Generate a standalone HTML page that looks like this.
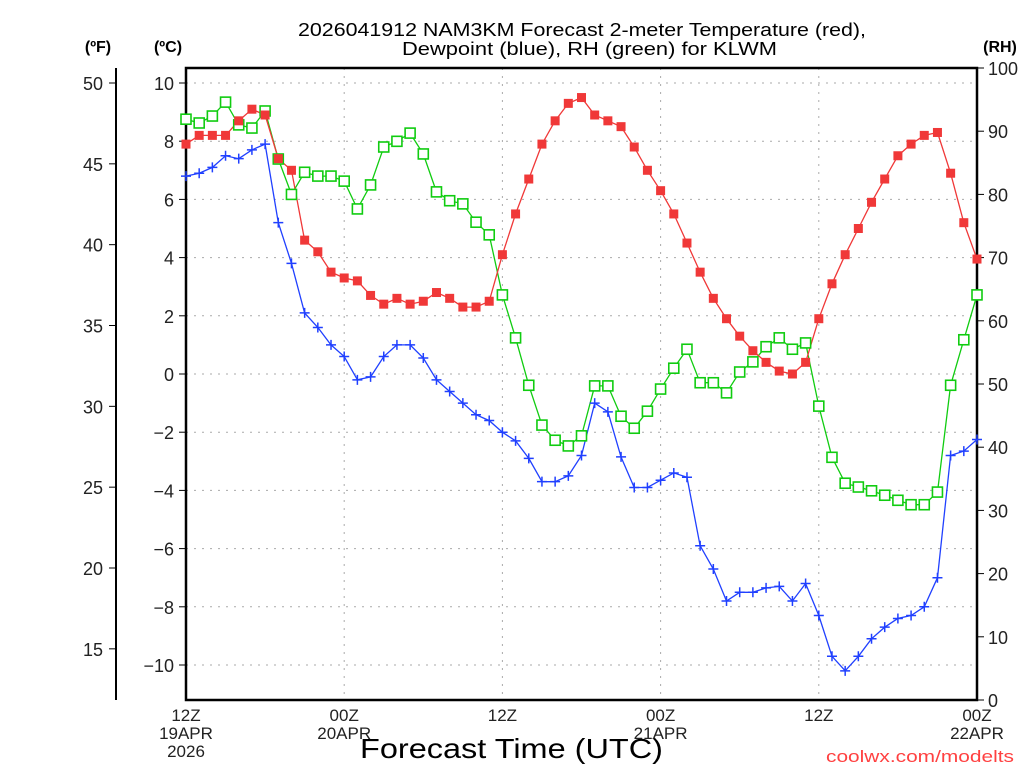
<!DOCTYPE html>
<html><head><meta charset="utf-8"><style>
html,body{margin:0;padding:0;background:#fff;}
svg{display:block;font-family:"Liberation Sans",sans-serif;}
</style></head><body>
<svg id="chart" width="1024" height="768" viewBox="0 0 1024 768">
<text x="298" y="36" textLength="568" lengthAdjust="spacingAndGlyphs" font-size="18">2026041912 NAM3KM Forecast 2-meter Temperature (red),</text>
<text x="402" y="55" textLength="375" lengthAdjust="spacingAndGlyphs" font-size="18">Dewpoint (blue), RH (green) for KLWM</text>
<text x="98" y="52" text-anchor="middle" font-size="16" font-weight="bold">(ºF)</text>
<text x="168" y="52" text-anchor="middle" font-size="16" font-weight="bold">(ºC)</text>
<text x="1000" y="52" text-anchor="middle" font-size="16" font-weight="bold">(RH)</text>
<text x="360" y="758" textLength="303" lengthAdjust="spacingAndGlyphs" font-size="28">Forecast Time (UTC)</text>
<text x="826" y="762" textLength="188" lengthAdjust="spacingAndGlyphs" font-size="17" fill="#ff4040">coolwx.com/modelts</text>
<g id="grid"></g><g id="axes"></g><g id="series"></g>
</svg>
<script>
const temps=[7.9,8.2,8.2,8.2,8.7,9.1,8.9,7.4,7.0,4.6,4.2,3.5,3.3,3.2,2.7,2.4,2.6,2.4,2.5,2.8,2.6,2.3,2.3,2.5,4.1,5.5,6.7,7.9,8.7,9.3,9.5,8.9,8.7,8.5,7.8,7.0,6.3,5.5,4.5,3.5,2.6,1.9,1.3,0.8,0.4,0.1,0.0,0.4,1.9,3.1,4.1,5.0,5.9,6.7,7.5,7.9,8.2,8.3,6.9,5.2,3.95];
const dewpoints=[6.8,6.9,7.1,7.5,7.4,7.7,7.9,5.2,3.8,2.1,1.6,1.0,0.6,-0.2,-0.1,0.6,1.0,1.0,0.55,-0.2,-0.6,-1.0,-1.4,-1.6,-2.0,-2.3,-2.9,-3.7,-3.7,-3.5,-2.8,-1.0,-1.3,-2.85,-3.9,-3.9,-3.65,-3.4,-3.55,-5.9,-6.7,-7.8,-7.5,-7.5,-7.35,-7.3,-7.8,-7.2,-8.3,-9.7,-10.2,-9.7,-9.1,-8.7,-8.4,-8.3,-8.0,-7.0,-2.8,-2.65,-2.25];
const rhs=[91.9,91.3,92.4,94.6,91,90.5,93.2,85.6,80,83.5,82.9,82.9,82.1,77.7,81.5,87.5,88.4,89.7,86.4,80.4,79,78.5,75.6,73.6,64.1,57.3,49.8,43.5,41.1,40.2,41.8,49.7,49.7,44.9,43,45.7,49.2,52.5,55.5,50.2,50.2,48.6,51.9,53.5,55.9,57.3,55.5,56.5,46.5,38.4,34.3,33.7,33.1,32.4,31.6,30.9,30.9,32.9,49.8,57,64.1];
const cTicks=[10,8,6,4,2,0,-2,-4,-6,-8,-10];
const fTicks=[50,45,40,35,30,25,20,15];
const rhTicks=[0,10,20,30,40,50,60,70,80,90,100];
const xTickHours=[0,12,24,36,48,60];
const xTickLabels=[["12Z","19APR","2026"],["00Z","20APR"],["12Z"],["00Z","21APR"],["12Z"],["00Z","22APR"]];

const X0=186,X1=977,Y0=68,Y1=700;
const xs=h=>X0+(X1-X0)*h/60;
const yc=c=>374-29.1*c;
const yf=f=>yc((f-32)*5/9);
const yr=r=>Y1-(Y1-Y0)*r/100;
const NS="http://www.w3.org/2000/svg";
function mk(tag,attrs,parent,text){const e=document.createElementNS(NS,tag);for(const k in attrs)e.setAttribute(k,attrs[k]);if(text!==undefined)e.textContent=text;parent.appendChild(e);return e;}
const grid=document.getElementById('grid'),axes=document.getElementById('axes'),ser=document.getElementById('series');

cTicks.forEach(c=>{
  const y=yc(c);
  const g=mk('line',{x1:X0,x2:X1,y1:y,y2:y,stroke:'#aaa','stroke-dasharray':'2,6'},grid);
  
  
  const t=mk('line',{x1:X0-7,x2:X0,y1:y,y2:y,stroke:'#000'},axes);
  
  
  const l=mk('text',{x:X0-12,y:y+7,'text-anchor':'end','font-size':'18',fill:'#222'},axes,c<0?'\u2212'+(-c):String(c));
  
  
});
xTickHours.forEach((h,i)=>{
  const x=xs(h);
  if(h>0&&h<60){const g=mk('line',{x1:x,x2:x,y1:Y0,y2:Y1,stroke:'#aaa','stroke-dasharray':'2,6'},grid);
  
  }
  xTickLabels[i].forEach((s,j)=>{
    const l=mk('text',{x:x,y:721+j*18,'text-anchor':'middle','font-size':'17',fill:'#222'},axes,s);
    
    
  });
});
fTicks.forEach(f=>{
  const y=yf(f);
  const t=mk('line',{x1:109,x2:116,y1:y,y2:y,stroke:'#000'},axes);
  
  
  const l=mk('text',{x:103,y:y+7,'text-anchor':'end','font-size':'18',fill:'#222'},axes,String(f));
  
  
});
rhTicks.forEach(r=>{
  const y=yr(r);
  const t=mk('line',{x1:X1,x2:X1+7,y1:y,y2:y,stroke:'#000'},axes);
  
  
  const l=mk('text',{x:X1+11,y:y+7,'font-size':'18',fill:'#222'},axes,String(r));
  
  
});
const fax=mk('line',{x1:116,x2:116,y1:Y0,y2:Y1,stroke:'#000','stroke-width':2},axes);


const box=mk('rect',{x:X0,y:Y0,width:X1-X0,height:Y1-Y0,fill:'none',stroke:'#000','stroke-width':2.5},axes);



function line(vals,yfn,color,name){
  const pts=vals.map((v,i)=>xs(i).toFixed(1)+','+yfn(v).toFixed(1)).join(' ');
  const p=mk('polyline',{points:pts,fill:'none',stroke:color,'stroke-width':1.3},ser);
  
  
}
line(rhs,yr,'#10cc10','rh');
line(dewpoints,yc,'#2040ff','dewpoint');
line(temps,yc,'#f03838','temperature');
rhs.forEach((v,i)=>{
  const m=mk('rect',{x:xs(i)-5,y:yr(v)-5,width:10,height:10,fill:'#fff',stroke:'#10cc10','stroke-width':1.6},ser);
  
  
});
dewpoints.forEach((v,i)=>{
  const x=xs(i),y=yc(v);
  const m=mk('path',{d:`M${x-5},${y}H${x+5}M${x},${y-5}V${y+5}`,stroke:'#2040ff','stroke-width':1.5},ser);
  
  
});
temps.forEach((v,i)=>{
  const m=mk('rect',{x:xs(i)-4.5,y:yc(v)-4.5,width:9,height:9,fill:'#f03838'},ser);
  
  
});
</script>
</body></html>
